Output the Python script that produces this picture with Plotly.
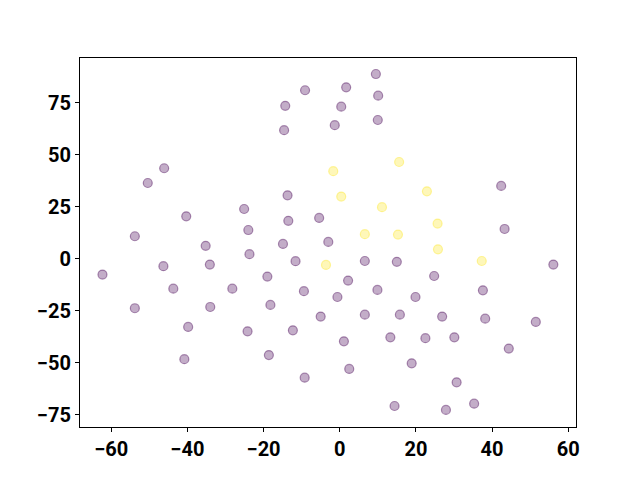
import plotly.graph_objects as go

purple_x = [-9.1, -14.3, -14.6, -46.1, -50.4, -13.7, -25.1, -40.3, -13.5, -5.4, -24.0, -53.8, -35.2, -14.9, -3.0,
            9.5, 1.7, 10.1, 0.4, 10.0, -1.3, 42.4, 43.3,
            -23.7, -46.3, -34.1, -11.6, -62.3, -19.0, -43.7, -28.2, -9.4, -53.8, -34.0, -18.2, -5.0, -39.8, -24.2, -12.3, -18.6, -40.8, -9.2,
            6.6, 15.0, 56.1, 2.2, 24.8, -0.6, 9.9, 19.9, 37.6, 6.6, 15.8, 26.9, 38.2, 51.5, 1.1, 13.3, 22.5, 30.1, 44.4, 2.5, 18.9, 30.7, 14.4, 27.9, 35.3]
purple_y = [81.1, 73.6, 61.9, 43.6, 36.5, 30.6, 24.0, 20.5, 18.3, 19.7, 13.9, 10.9, 6.3, 7.2, 8.2,
            88.9, 82.5, 78.5, 73.2, 66.8, 64.3, 35.1, 14.4,
            2.3, -3.5, -2.7, -1.1, -7.5, -8.5, -14.3, -14.3, -15.5, -23.7, -23.1, -22.1, -27.7, -32.7, -34.8, -34.3, -46.2, -48.2, -57.1,
            -1.0, -1.4, -2.7, -10.4, -8.2, -18.3, -14.9, -18.3, -15.1, -26.8, -26.8, -27.7, -28.7, -30.3, -39.6, -37.7, -38.1, -37.7, -43.1, -52.9, -50.2, -59.3, -70.7, -72.6, -69.6]
yellow_x = [15.6, -1.7, 22.9, 0.4, 11.1, 25.7, 6.6, 15.3, 25.8, -3.6, 37.3]
yellow_y = [46.6, 42.2, 32.5, 30.0, 24.9, 17.0, 11.9, 11.7, 4.6, -2.9, -1.0]

x_ticks = [-60, -40, -20, 0, 20, 40, 60]
y_ticks = [-75, -50, -25, 0, 25, 50, 75]

def fmt(v):
    return ("\u2212" + str(-v)) if v < 0 else str(v)

fig = go.Figure()
fig.add_trace(go.Scatter(x=purple_x, y=purple_y, mode="markers",
                         marker=dict(size=9, color="rgba(68,1,84,0.32)",
                                     line=dict(color="rgba(68,1,84,0.42)", width=1.2))))
fig.add_trace(go.Scatter(x=yellow_x, y=yellow_y, mode="markers",
                         marker=dict(size=9, color="rgba(253,231,37,0.32)",
                                     line=dict(color="rgba(253,231,37,0.42)", width=1.2))))

axis_common = dict(showline=True, linecolor="black", linewidth=1.2, mirror=True,
                   ticks="outside", ticklen=4, tickcolor="black", showgrid=False, zeroline=False,
                   tickfont=dict(family="Roboto", size=20, color="black", weight="bold"))
fig.update_xaxes(range=[-68.2, 62.05], tickvals=x_ticks, ticktext=[fmt(v) for v in x_ticks], **axis_common)
fig.update_yaxes(range=[-80.8, 96.6], tickvals=y_ticks, ticktext=[fmt(v) for v in y_ticks], **axis_common)
fig.update_layout(width=640, height=480, showlegend=False,
                  plot_bgcolor="white", paper_bgcolor="white",
                  margin=dict(l=72, r=72, t=50, b=61))
fig.write_html("out.html")
